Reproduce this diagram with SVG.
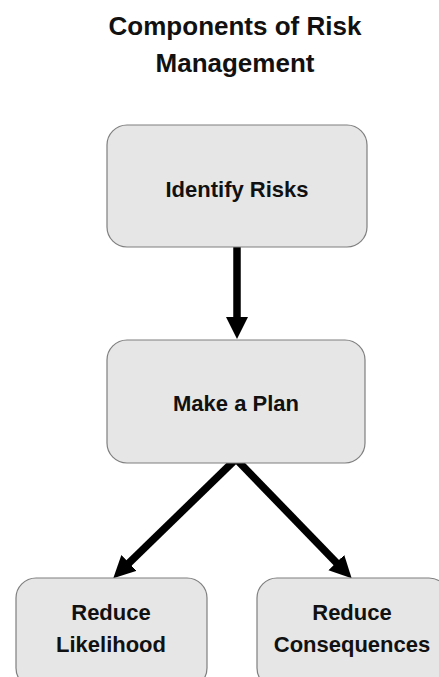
<svg xmlns="http://www.w3.org/2000/svg" width="439" height="677" viewBox="0 0 439 677">
<style>
.box{fill:#e6e6e6;stroke:#7f7f7f;stroke-width:1.2}
.lbl{font-family:"Liberation Sans",Arial,sans-serif;font-weight:bold;font-size:22px;fill:#111;text-anchor:middle}
.title{font-family:"Liberation Sans",Arial,sans-serif;font-weight:bold;font-size:26px;fill:#111;text-anchor:middle}
.conn{stroke:#000;stroke-width:7.5;fill:none}
</style>
<defs>
<marker id="ah" markerUnits="userSpaceOnUse" markerWidth="24" markerHeight="24" refX="8" refY="11" orient="auto">
<path d="M0,0 L22,11 L0,22 z" fill="#000"/>
</marker>
</defs>
<rect width="439" height="677" fill="#fff"/>
<g id="title">
<text class="title" x="235" y="35">Components of Risk</text>
<text class="title" x="235" y="72">Management</text>
</g>
<g id="connectors">
<path class="conn" d="M237,246 L237,325" marker-end="url(#ah)"/>
<path class="conn" d="M236,459 L123.3,568.5" marker-end="url(#ah)"/>
<path class="conn" d="M236,459 L341.9,568.3" marker-end="url(#ah)"/>
</g>
<g id="identify">
<rect class="box" x="107" y="125" width="260" height="122" rx="20"/>
<text class="lbl" x="237" y="197">Identify Risks</text>
</g>
<g id="plan">
<rect class="box" x="107" y="340" width="258" height="123" rx="20"/>
<text class="lbl" x="236" y="411">Make a Plan</text>
</g>
<g id="likelihood">
<rect class="box" x="16" y="578" width="191" height="110" rx="20"/>
<text class="lbl" x="111" y="620">Reduce</text>
<text class="lbl" x="111" y="652">Likelihood</text>
</g>
<g id="consequences">
<rect class="box" x="257" y="578" width="192" height="110" rx="20"/>
<text class="lbl" x="352" y="620">Reduce</text>
<text class="lbl" x="352" y="652">Consequences</text>
</g>
</svg>
